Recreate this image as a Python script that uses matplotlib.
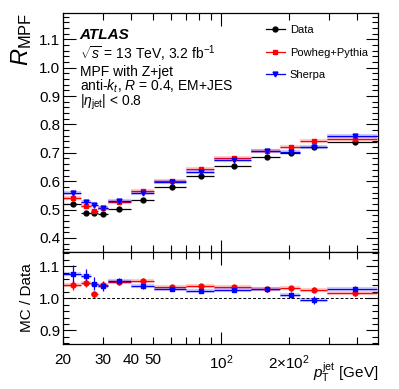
import numpy as np
import matplotlib
matplotlib.use("Agg")
import matplotlib.pyplot as plt
from matplotlib.ticker import FixedLocator, NullFormatter, MultipleLocator
from matplotlib.lines import Line2D

plt.rcParams['font.family'] = ['Liberation Sans', 'DejaVu Sans']
plt.rcParams['mathtext.fontset'] = 'custom'
plt.rcParams['mathtext.rm'] = 'Liberation Sans'
plt.rcParams['mathtext.it'] = 'Liberation Sans:italic'
plt.rcParams['mathtext.bf'] = 'Liberation Sans:bold'

# ---- data ----
bin_edges = [20, 24, 26.5, 28.7, 31.5, 40, 50.5, 70, 93, 136, 182, 225, 295, 490]
x_points = [22.2, 25.3, 27.5, 30.0, 35.3, 45.2, 60.6, 81.3, 114.5, 159.4, 203.4, 259.5, 393]

data_r = [0.519, 0.489, 0.489, 0.485, 0.501, 0.535, 0.579, 0.618, 0.655, 0.684, 0.698, 0.719, 0.737]
data_err = [0.006, 0.004, 0.004, 0.004, 0.003, 0.003, 0.003, 0.003, 0.003, 0.003, 0.004, 0.005, 0.005]
powheg_r = [0.541, 0.513, 0.495, 0.507, 0.527, 0.567, 0.602, 0.642, 0.681, 0.707, 0.721, 0.740, 0.749]
powheg_err = [0.006, 0.005, 0.005, 0.004, 0.003, 0.003, 0.003, 0.003, 0.003, 0.003, 0.004, 0.004, 0.005]
sherpa_r = [0.560, 0.527, 0.515, 0.507, 0.529, 0.559, 0.598, 0.633, 0.674, 0.706, 0.704, 0.721, 0.760]
sherpa_err = [0.010, 0.008, 0.008, 0.006, 0.004, 0.004, 0.003, 0.003, 0.003, 0.003, 0.006, 0.008, 0.006]

ratio_powheg = [1.041, 1.047, 1.012, 1.040, 1.052, 1.055, 1.036, 1.037, 1.036, 1.030, 1.031, 1.027, 1.016]
ratio_powheg_err = [0.015, 0.012, 0.010, 0.010, 0.008, 0.007, 0.006, 0.006, 0.006, 0.006, 0.007, 0.008, 0.008]
ratio_sherpa = [1.075, 1.069, 1.045, 1.039, 1.053, 1.039, 1.029, 1.022, 1.027, 1.028, 1.010, 0.995, 1.030]
ratio_sherpa_err = [0.030, 0.022, 0.020, 0.015, 0.010, 0.010, 0.007, 0.006, 0.006, 0.007, 0.010, 0.012, 0.009]

xtick_vals = [20, 30, 40, 50, 100, 200]
xtick_labels = ['20', '30', '40', '50', r'$10^{2}$', r'$2{\times}10^{2}$']

# ---- helpers ----
x = np.array(x_points)
edges = np.array(bin_edges)
xlo = x - edges[:-1]
xhi = edges[1:] - x
xerr = [xlo, xhi]

fig = plt.figure(figsize=(3.99, 3.89), dpi=100)
ax1 = fig.add_axes([0.158, 0.352, 0.789, 0.6145])
ax2 = fig.add_axes([0.158, 0.1157, 0.789, 0.2363])

black = 'black'
red = '#ff0000'
blue = '#0000ff'
ms = 3.5

def draw(ax, y, yerr, color, marker, band=False):
    if band:
        ax.errorbar(x, y, xerr=xerr, fmt='none', ecolor=color, elinewidth=3.0, alpha=0.2, capsize=0)
    ax.errorbar(x, y, xerr=xerr, yerr=yerr, fmt=marker, color=color, ecolor=color,
                markersize=ms, elinewidth=0.9, capsize=0)

draw(ax1, data_r, data_err, black, 'o')
draw(ax1, powheg_r, powheg_err, red, 's', band=True)
draw(ax1, sherpa_r, sherpa_err, blue, 'v', band=True)

draw(ax2, ratio_powheg, ratio_powheg_err, red, 'o', band=True)
draw(ax2, ratio_sherpa, ratio_sherpa_err, blue, 's', band=True)
ax2.axhline(1.0, color='black', ls=(0, (3, 2)), lw=0.7)

for ax in (ax1, ax2):
    ax.set_xscale('log')
    ax.set_xlim(20, 495)
    ax.xaxis.set_major_locator(FixedLocator([100]))
    ax.xaxis.set_minor_locator(FixedLocator([20, 30, 40, 50, 60, 70, 80, 90, 200, 300, 400]))
    ax.xaxis.set_major_formatter(NullFormatter())
    ax.xaxis.set_minor_formatter(NullFormatter())
    ax.tick_params(which='both', direction='in', top=True, right=True, width=0.8)
    ax.tick_params(which='major', length=9)
    ax.tick_params(which='minor', length=5)
    ax.tick_params(axis='y', which='major', length=9)
    ax.tick_params(axis='y', which='minor', length=4)
    for sp in ax.spines.values():
        sp.set_linewidth(0.9)

ax1.set_ylim(0.35, 1.193)
ax1.yaxis.set_minor_locator(MultipleLocator(0.02))
ax1.set_yticks([0.4, 0.5, 0.6, 0.7, 0.8, 0.9, 1.0, 1.1])
ax1.set_yticklabels(['0.4', '0.5', '0.6', '0.7', '0.8', '0.9', '1.0', '1.1'])
ax1.tick_params(axis='y', labelsize=11, pad=2)

ax2.set_ylim(0.858, 1.144)
ax2.set_yticks([0.9, 1.0, 1.1])
ax2.set_yticklabels(['0.9', '1.0', '1.1'])
ax2.yaxis.set_minor_locator(MultipleLocator(0.02))
ax2.tick_params(axis='y', labelsize=11, pad=2)

# x tick labels on ratio panel
for v, lab in zip(xtick_vals, xtick_labels):
    ax2.text(v, -0.1, lab, transform=ax2.get_xaxis_transform(), ha='center', va='top', fontsize=11)

ax1.set_ylabel(r'$R_{\mathrm{MPF}}$', fontsize=17, loc='top', labelpad=4)
ax2.set_ylabel('MC / Data', fontsize=11, labelpad=4)
ax2.text(1.0, -0.37, r'$p_{\mathrm{T}}^{\mathrm{jet}}$ [GeV]', transform=ax2.transAxes,
         ha='right', va='baseline', fontsize=11)

# annotations
tx = 0.053
ax1.text(tx, 0.91, 'ATLAS', transform=ax1.transAxes, fontsize=11, fontweight='bold', style='italic', va='center')
ax1.text(tx, 0.83, r'$\sqrt{s}$ = 13 TeV, 3.2 fb$^{-1}$', transform=ax1.transAxes, fontsize=10, va='center')
ax1.text(tx, 0.755, 'MPF with Z+jet', transform=ax1.transAxes, fontsize=10, va='center')
ax1.text(tx, 0.695, r'anti-$k_{t}$, $R$ = 0.4, EM+JES', transform=ax1.transAxes, fontsize=10, va='center')
ax1.text(tx, 0.625, r'|$\eta_{\mathrm{jet}}$| < 0.8', transform=ax1.transAxes, fontsize=10, va='center')

handles = [Line2D([], [], color=black, marker='o', markersize=ms, lw=0.9),
           Line2D([], [], color=red, marker='s', markersize=ms, lw=0.9),
           Line2D([], [], color=blue, marker='v', markersize=ms, lw=0.9)]
labels = ['Data', 'Powheg+Pythia', 'Sherpa']
leg = ax1.legend(handles, labels, loc='upper left', bbox_to_anchor=(0.63, 0.968), frameon=False, fontsize=8,
                 handlelength=1.7, labelspacing=1.12, handletextpad=0.45, borderaxespad=0.0)

fig.savefig('out.png', dpi=100)
